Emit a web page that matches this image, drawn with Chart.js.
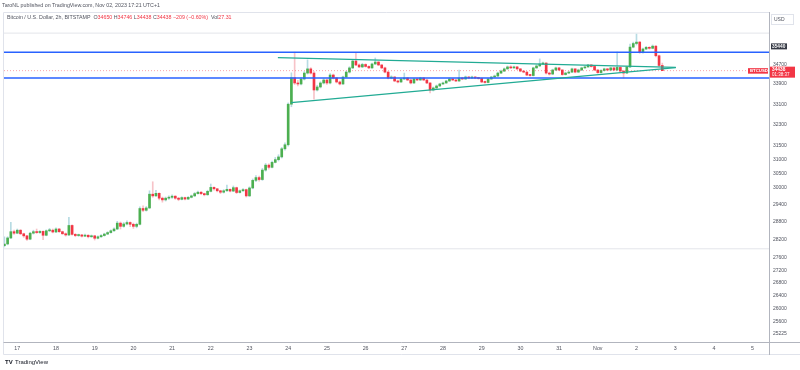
<!DOCTYPE html>
<html><head><meta charset="utf-8">
<script src="https://cdn.jsdelivr.net/npm/chart.js@4.4.0/dist/chart.umd.min.js"></script>
<style>html,body{margin:0;padding:0;background:#fff;overflow:hidden}</style>
</head><body>
<canvas id="c" width="800" height="370"></canvas>
<script>
// ---- DATA (2h candles, BTC/USD Bitstamp, Oct 16 16:00 .. Nov 2 16:00, UTC+1) ----
const firstOpen = 28000;
const closes = [
 28060,28260,28470,28420,
 28520,28400,28330,28220,28420,28470,28440,28480,28350,28500,28520,28460,
 28560,28470,28400,28360,28680,28380,28340,28360,28320,28350,28300,28330,
 28250,28300,28340,28390,28440,28500,28560,28760,28650,28730,28780,28720,
 28650,28720,29260,29200,29280,29760,29700,29790,29620,29560,29620,29650,
 29690,29620,29580,29640,29590,29650,29700,29780,29830,29780,29740,29860,
 30000,29950,29880,29830,29880,29930,29870,29990,29820,29880,29920,29700,
 29980,30250,30350,30280,30620,30800,30720,30900,31000,31100,31400,31550,
 33100,34150,33940,33900,34100,34340,34510,34340,33660,33780,33940,34060,
 33940,34260,34140,33980,33900,34180,34380,34550,34830,34670,34590,34690,
 34610,34550,34710,34790,34670,34550,34380,34140,34180,34020,33980,34100,
 34140,34060,33940,34100,34060,34140,34060,33940,33660,33740,33820,33900,
 33940,34020,34100,34060,34020,34140,34100,34180,34140,34180,34140,34120,
 33980,33960,34100,34180,34220,34340,34420,34510,34590,34550,34590,34510,
 34420,34380,34260,34240,34550,34630,34710,34750,34340,34300,34465,34550,
 34465,34280,34340,34380,34510,34380,34465,34550,34590,34670,34610,34465,
 34360,34445,34510,34465,34550,34465,34570,34420,34340,34590,35410,35560,
 35620,35200,35330,35400,35360,35450,35050,34650,34438
];
const highs = [
 28300,28300,28790,28520,
 28560,28540,28420,28350,28450,28520,28560,28510,28500,28530,28580,28560,
 28600,28580,28490,28430,28960,28700,28410,28390,28380,28390,28370,28360,
 28350,28330,28370,28420,28470,28530,28600,28820,28800,28780,28840,28800,
 28760,28760,29320,29350,29330,29880,30200,29900,29810,29660,29660,29700,
 29740,29710,29650,29670,29660,29680,29730,29820,29870,29850,29800,29900,
 30120,30020,29960,29900,29920,30080,29950,30050,30010,29910,29960,29940,
 30020,30300,30420,30400,30680,30860,30850,30950,31080,31180,31450,31620,
 33150,34350,35200,34050,34160,34400,34880,34560,34400,33850,33990,34120,
 34100,34320,34300,34160,34020,34220,34420,34600,34900,35150,34720,34740,
 34720,34640,34750,34960,34810,34690,34580,34400,34230,34200,34060,34130,
 34340,34160,34080,34130,34120,34170,34160,34080,33960,33780,33860,33930,
 33980,34050,34140,34120,34080,34465,34170,34220,34200,34220,34200,34170,
 34140,34020,34130,34210,34260,34380,34460,34550,34630,34640,34620,34610,
 34530,34440,34400,34290,34580,34680,34920,34790,34760,34380,34500,34580,
 34570,34480,34370,34420,34540,34520,34500,34580,34620,34700,34690,34630,
 34480,34480,34540,34530,34580,34570,35200,34600,34440,34620,35540,35620,
 35960,35650,35370,35440,35430,35500,35470,35080,34746
];
const lows = [
 27960,28030,28240,28380,
 28400,28370,28280,28180,28200,28390,28410,28410,28200,28330,28470,28430,
 28440,28440,28380,28320,28340,28350,28300,28310,28290,28300,28260,28280,
 28190,28230,28280,28320,28370,28420,28480,28540,28560,28620,28700,28640,
 28580,28600,28700,29150,29170,29260,29650,29680,29560,29480,29520,29580,
 29610,29580,29530,29560,29560,29570,29630,29680,29760,29740,29700,29720,
 29840,29900,29840,29780,29800,29860,29840,29850,29780,29800,29860,29660,
 29680,29950,30200,30220,30250,30580,30650,30700,30880,30950,31060,31350,
 31500,33000,33880,33820,33860,34060,34300,34300,33300,33620,33740,33900,
 33880,33900,34100,33940,33860,33880,34150,34340,34520,34640,34560,34560,
 34580,34520,34530,34690,34640,34520,34350,34100,34110,33990,33940,33960,
 34080,34030,33900,33920,34030,34040,34030,33910,33540,33620,33720,33800,
 33880,33920,34000,34030,33990,34000,34070,34080,34110,34120,34110,34090,
 33950,33930,33940,34080,34160,34200,34320,34400,34490,34520,34530,34480,
 34390,34350,34230,34210,34220,34530,34610,34690,34300,34260,34280,34440,
 34440,34250,34260,34320,34360,34350,34360,34440,34530,34570,34580,34440,
 34330,34340,34420,34440,34440,34440,34440,34390,34140,34320,34560,35380,
 35500,35150,35160,35300,35320,35340,35000,34600,34438
];
// x axis: candle index units; day starts (Oct 17 00:00 = index 4, 12 candles/day)
const dayTicks  = [4,16,28,40,52,64,76,88,100,112,124,136,148,160,172,184,196,208,220,232];
const dayLabels = ["17","18","19","20","21","22","23","24","25","26","27","28","29","30","31","Nov","2","3","4","5"];
const yTicks = [34700,33900,33100,32300,31500,31000,30500,30000,29400,28800,28200,27600,27200,26800,26400,26000,25600,25225];
const blueLevels = [35200, 34140];
const grayLevels = [36000, 27900];
const upperTrendX = [84.8, 208.2], upperTrendY = [34970, 34570];
const lowerTrendX = [88.9, 208.2], lowerTrendY = [33160, 34560];
const lastPrice = 34438;
const markPrice = 35440;
const X_MIN = -0.12, X_MAX = 237.4, Y_MIN = 24990, Y_MAX = 36910;

// ---- build datasets ----
const GREEN = '#4caf50', RED = '#f23645';
const opens = closes.map((c, i) => i === 0 ? firstOpen : closes[i - 1]);
const bodyData = closes.map((c, i) => ({x: i, y: [opens[i], c]}));
const wickData = closes.map((c, i) => ({x: i, y: [lows[i], highs[i]]}));
const bodyColors = closes.map((c, i) => c >= opens[i] ? GREEN : RED);
const wickColors = closes.map((c, i) => c >= opens[i] ? '#b7dbe3' : '#f7c3c8');
const hLine = v => [{x: X_MIN, y: v}, {x: X_MAX, y: v}];

const datasets = [
  {type:'bar', data: wickData, backgroundColor: wickColors, barThickness: 1, grouped: false, order: 5},
  {type:'bar', data: bodyData, backgroundColor: bodyColors, barThickness: 2, minBarLength: 1, grouped: false, order: 4},
];
grayLevels.forEach(v => datasets.push({type:'line', data: hLine(v), borderColor:'#e3e5ea', borderWidth:1, pointRadius:0, order:6}));
datasets.push({type:'line', data: hLine(lastPrice), borderColor:'rgba(242,54,69,0.45)', borderWidth:1, borderDash:[1,2], pointRadius:0, order:3});
blueLevels.forEach(v => datasets.push({type:'line', data: hLine(v), borderColor:'#2962ff', borderWidth:1.5, pointRadius:0, order:1}));
datasets.push({type:'line', data: upperTrendX.map((x,i)=>({x, y: upperTrendY[i]})), borderColor:'#22ab94', borderWidth:1.3, pointRadius:0, order:0});
datasets.push({type:'line', data: lowerTrendX.map((x,i)=>({x, y: lowerTrendY[i]})), borderColor:'#22ab94', borderWidth:1.3, pointRadius:0, order:0});

const FONT = '"Liberation Sans", Arial, sans-serif';
const deco = {
  id: 'deco',
  afterDraw(chart) {
    const ctx = chart.ctx, a = chart.chartArea, ys = chart.scales.y;
    ctx.save();
    // pane borders
    ctx.lineWidth = 1;
    ctx.strokeStyle = '#e0e3eb';
    ctx.beginPath();
    ctx.moveTo(3.5, 12.5); ctx.lineTo(a.right, 12.5);
    ctx.moveTo(3.5, 12.5); ctx.lineTo(3.5, 354.5);
    ctx.moveTo(3.5, 354.5); ctx.lineTo(800, 354.5);
    ctx.stroke();
    ctx.strokeStyle = '#b2b5be';
    ctx.beginPath();
    ctx.moveTo(3.5, a.bottom + 0.5); ctx.lineTo(800, a.bottom + 0.5);
    ctx.moveTo(a.right - 0.5, 12); ctx.lineTo(a.right - 0.5, 355);
    ctx.stroke();

    // header
    ctx.textBaseline = 'middle';
    ctx.textAlign = 'left';
    ctx.font = '5.3px ' + FONT;
    ctx.fillStyle = '#50535e';
    ctx.fillText('TaroNL published on TradingView.com, Nov 02, 2023 17:21 UTC+1', 2, 6);
    const parts = [
      ['Bitcoin / U.S. Dollar, 2h, BITSTAMP  ', '#50535e'],
      ['O', '#50535e'], ['34650 ', RED], ['H', '#50535e'], ['34746 ', RED],
      ['L', '#50535e'], ['34438 ', RED], ['C', '#50535e'], ['34438 ', RED],
      ['−209 (−0.60%)  ', RED], ['Vol', '#50535e'], ['27.31', RED]
    ];
    let x = 7;
    parts.forEach(([t, c]) => { ctx.fillStyle = c; ctx.fillText(t, x, 18); x += ctx.measureText(t).width; });

    // USD box
    ctx.strokeStyle = '#e0e3eb';
    ctx.strokeRect(771.5, 14.5, 22, 10);
    ctx.fillStyle = '#50535e';
    ctx.font = '5px ' + FONT;
    ctx.fillText('USD', 774, 19.5);

    // mark label (dark)
    let py = ys.getPixelForValue(markPrice);
    ctx.fillStyle = '#363a45';
    ctx.fillRect(771, py - 3, 16, 6);
    ctx.fillStyle = '#ffffff';
    ctx.font = 'bold 4.8px ' + FONT;
    ctx.fillText(String(markPrice), 772, py);

    // last price label
    py = ys.getPixelForValue(lastPrice);
    ctx.fillStyle = RED;
    ctx.fillRect(770, py - 4, 25, 11);
    ctx.fillRect(748, py - 2.5, 20, 5.5);
    ctx.fillStyle = '#ffffff';
    ctx.font = 'bold 4.8px ' + FONT;
    ctx.fillText(String(lastPrice), 772, py - 0.5);
    ctx.font = '4.5px ' + FONT;
    ctx.fillText('01:38:37', 772, py + 4.5);
    ctx.font = 'bold 4.3px ' + FONT;
    ctx.fillText('BTCUSD', 750, py + 0.3);

    // TradingView logo
    ctx.fillStyle = '#131722';
    ctx.font = 'bold 6px ' + FONT;
    ctx.fillText('TV', 5, 362);
    ctx.font = '6px ' + FONT;
    ctx.fillText('TradingView', 15, 362);
    ctx.restore();
  }
};

new Chart(document.getElementById('c'), {
  type: 'bar',
  data: {datasets},
  options: {
    responsive: false,
    animation: false,
    devicePixelRatio: 1,
    layout: {padding: {top: 12, left: 4, right: 0, bottom: 0}},
    plugins: {legend: {display: false}, tooltip: {enabled: false}},
    scales: {
      x: {
        type: 'linear', min: X_MIN, max: X_MAX, offset: false,
        grid: {display: false, drawTicks: false}, border: {display: false},
        afterFit: s => { s.height = 28; },
        afterBuildTicks: s => { s.ticks = dayTicks.map(v => ({value: v})); },
        ticks: {
          autoSkip: false, maxRotation: 0, padding: 3,
          color: '#50535e', font: {size: 5.3, family: FONT},
          callback: v => dayLabels[dayTicks.indexOf(v)]
        }
      },
      y: {
        type: 'logarithmic', position: 'right', min: Y_MIN, max: Y_MAX,
        grid: {display: false, drawTicks: false}, border: {display: false},
        afterFit: s => { s.width = 30; },
        afterBuildTicks: s => { s.ticks = yTicks.map(v => ({value: v})); },
        ticks: {
          autoSkip: false, padding: 3, crossAlign: 'near',
          color: '#50535e', font: {size: 5, family: FONT},
          callback: v => String(v)
        }
      }
    }
  },
  plugins: [deco]
});
</script>
</body></html>
